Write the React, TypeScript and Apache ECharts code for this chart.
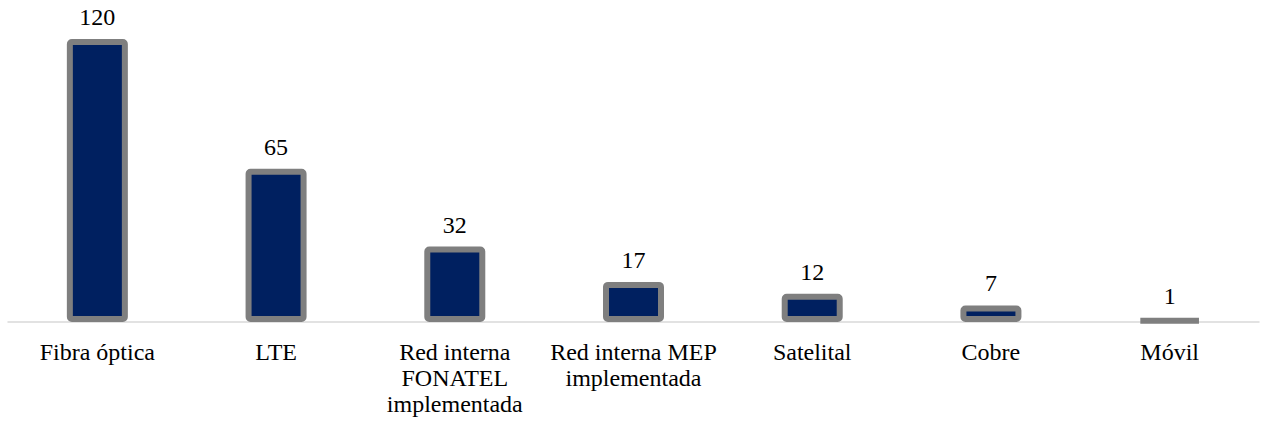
import React, { useEffect, useRef } from "react";
import * as echarts from "echarts";

const categories = [
  "Fibra óptica",
  "LTE",
  "Red interna\nFONATEL\nimplementada",
  "Red interna MEP\nimplementada",
  "Satelital",
  "Cobre",
  "Móvil",
];
const values = [120, 65, 32, 17, 12, 7, 1];

const FONT = "'Liberation Serif', 'Times New Roman', serif";

export default function App() {
  const ref = useRef<HTMLDivElement>(null);
  useEffect(() => {
    if (!ref.current) return;
    const chart = echarts.init(ref.current, null, { renderer: "svg" });
    chart.setOption({
      animation: false,
      backgroundColor: "#ffffff",
      grid: { left: 8, right: 4, top: 39, bottom: 99, containLabel: false },
      xAxis: {
        type: "category",
        data: categories,
        axisLine: { show: true, lineStyle: { color: "#d9d9d9", width: 1.5 } },
        axisTick: { show: false },
        axisLabel: {
          interval: 0,
          color: "#000000",
          fontFamily: FONT,
          fontSize: 24,
          lineHeight: 26,
          margin: 17,
        },
      },
      yAxis: {
        type: "value",
        min: 0,
        max: 120,
        show: false,
        splitLine: { show: false },
      },
      series: [
        {
          type: "bar",
          data: values,
          barWidth: 61,
          itemStyle: {
            color: "#002060",
            borderColor: "#7f7f7f",
            borderWidth: 6,
            borderRadius: 2,
          },
          label: {
            show: true,
            position: "top",
            distance: 10,
            color: "#000000",
            fontFamily: FONT,
            fontSize: 24,
          },
        },
      ],
    });
    return () => chart.dispose();
  }, []);
  return (
    <div
      ref={ref}
      style={{ position: "fixed", left: 0, top: 0, width: 1263, height: 421 }}
    />
  );
}
